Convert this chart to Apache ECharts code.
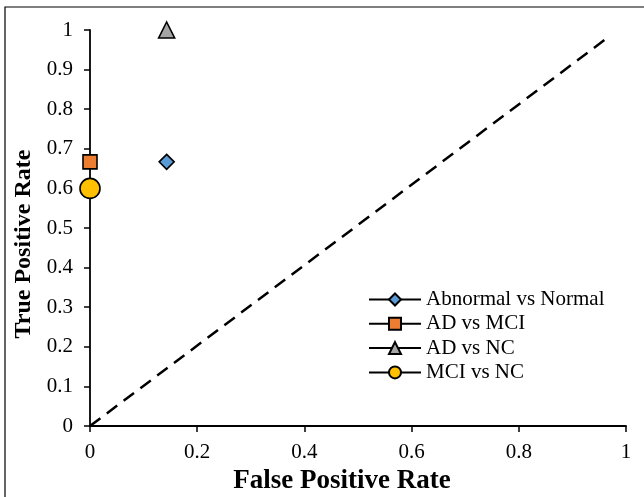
<!DOCTYPE html>
<html>
<head>
<meta charset="utf-8">
<script src="https://cdn.jsdelivr.net/npm/echarts@6/dist/echarts.min.js"></script>
<style>
  html, body { margin: 0; padding: 0; background: #fff; }
  #chart { width: 644px; height: 497px; }
</style>
</head>
<body>
<div id="chart"></div>
<script>
// ROC points
const seriesNames = ['Abnormal vs Normal', 'AD vs MCI', 'AD vs NC', 'MCI vs NC'];
const fprValues = [0.143, 0, 0.143, 0];
const tprValues = [0.667, 0.667, 1, 0.6];
const diagonalLine = [[0, 0], [0.97, 0.985]];
const axisTicks = [0, 0.2, 0.4, 0.6, 0.8, 1];

const markerFills = ['#5B9BD5', '#ED7D31', '#A5A5A5', '#FFC000'];
const markerShapes = ['diamond', 'rect', 'triangle', 'circle'];
const markerSizes = [15, 14, 16, 20];

const chart = echarts.init(document.getElementById('chart'));
const font = '"Liberation Serif", "Times New Roman", serif';

const pointSeries = seriesNames.map((name, i) => ({
    name: name,
    type: 'line',
    data: [[fprValues[i], tprValues[i]]],
    symbol: markerShapes[i],
    symbolSize: markerSizes[i],
    showSymbol: true,
    lineStyle: { color: '#000', width: 2.5 },
    itemStyle: { color: markerFills[i], borderColor: '#000', borderWidth: 1.6 },
    z: 5
}));

const option = {
    animation: false,
    textStyle: { fontFamily: font },
    graphic: [{
        type: 'rect',
        shape: { x: 5, y: 7, width: 660, height: 520 },
        style: { fill: 'none', stroke: '#000', lineWidth: 1.2 },
        silent: true
    }],
    grid: { left: 90, top: 30, width: 536, height: 396, containLabel: false, outerBoundsMode: 'none' },
    legend: {
        data: seriesNames,
        orient: 'vertical',
        left: 363,
        top: 284,
        itemWidth: 52,
        itemHeight: 15,
        itemGap: 3.3,
        textStyle: { fontFamily: font, fontSize: 21, lineHeight: 21, color: '#000' }
    },
    xAxis: {
        type: 'value',
        min: 0,
        max: 1,
        interval: 0.2,
        name: 'False Positive Rate',
        nameLocation: 'middle',
        nameGap: 34,
        nameTextStyle: { fontFamily: font, fontSize: 27, fontWeight: 'bold', color: '#000',
            padding: [0, 32, 0, 0] },
        axisLine: { lineStyle: { color: '#000', width: 1.8 } },
        axisTick: { show: true, length: 6, lineStyle: { color: '#000', width: 1.5 } },
        axisLabel: { fontFamily: font, fontSize: 21, color: '#000', margin: 16,
            formatter: v => axisTicks.includes(+v.toFixed(1)) ? String(+v.toFixed(1)) : '' },
        splitLine: { show: false }
    },
    yAxis: {
        type: 'value',
        min: 0,
        max: 1,
        interval: 0.1,
        name: 'True Positive Rate',
        nameLocation: 'middle',
        nameGap: 49,
        nameTextStyle: { fontFamily: font, fontSize: 24, fontWeight: 'bold', color: '#000',
            padding: [0, 32, 0, 0] },
        axisLine: { show: true, lineStyle: { color: '#000', width: 1.8 } },
        axisTick: { show: true, length: 6, lineStyle: { color: '#000', width: 1.5 } },
        axisLabel: { fontFamily: font, fontSize: 21, color: '#000', margin: 17,
            formatter: v => String(+v.toFixed(1)) },
        splitLine: { show: false }
    },
    series: [
        {
            name: 'diagonal',
            type: 'line',
            data: diagonalLine,
            symbol: 'none',
            lineStyle: { color: '#000', width: 2.5, type: [13, 8] },
            z: 2
        }
    ].concat(pointSeries)
};

chart.setOption(option);
</script>
</body>
</html>
